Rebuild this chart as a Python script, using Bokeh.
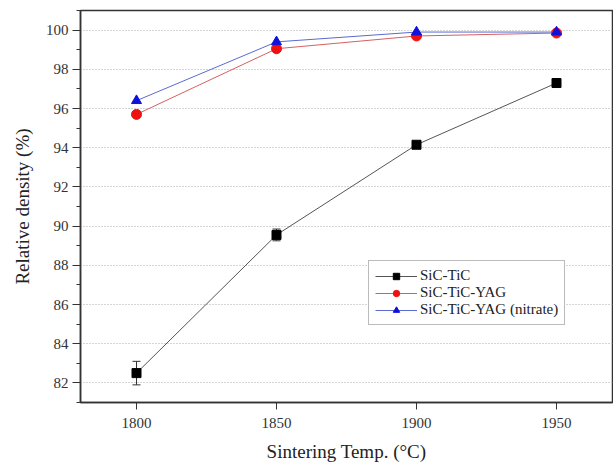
from bokeh.plotting import figure
from bokeh.models import ColumnDataSource, Whisker, Legend, LegendItem, SingleIntervalTicker, FixedTicker, Range1d
from bokeh.embed import file_html
from bokeh.resources import INLINE

temps = [1800, 1850, 1900, 1950]
sic_tic = [82.5, 89.55, 94.15, 97.3]
sic_tic_err = [0.6, 0.3, 0.1, 0.1]
sic_tic_yag = [95.7, 99.05, 99.7, 99.85]
sic_tic_yag_nitrate = [96.4, 99.4, 99.9, 99.9]
x_ticks = [1800, 1850, 1900, 1950]

FONT = "Liberation Serif"

p = figure(width=613, height=464, output_backend="svg", toolbar_location=None,
           x_range=Range1d(1780, 1970), y_range=Range1d(81, 101),
           min_border_left=80, min_border_right=1, min_border_top=10, min_border_bottom=62)

src = ColumnDataSource(dict(x=temps, y=sic_tic,
                            lo=[v - e for v, e in zip(sic_tic, sic_tic_err)],
                            hi=[v + e for v, e in zip(sic_tic, sic_tic_err)]))
w = Whisker(source=src, base="x", lower="lo", upper="hi", line_color="#333333", line_width=1)
w.upper_head.size = 8
w.lower_head.size = 8
w.upper_head.line_color = "#333333"
w.lower_head.line_color = "#333333"
p.add_layout(w)

l1 = p.line(temps, sic_tic, line_color="#555555", line_width=1)
m1 = p.scatter(temps, sic_tic, marker="square", size=9, fill_color="black", line_color="black")
l2 = p.line(temps, sic_tic_yag, line_color="#d66060", line_width=1)
m2 = p.scatter(temps, sic_tic_yag, marker="circle", size=10, fill_color="#ee1111", line_color="#ee1111")
l3 = p.line(temps, sic_tic_yag_nitrate, line_color="#5a6ad0", line_width=1)
m3 = p.scatter(temps, sic_tic_yag_nitrate, marker="triangle", size=10, fill_color="#1010dd", line_color="#1010dd")

legend = Legend(items=[
    LegendItem(label="SiC-TiC", renderers=[l1, m1]),
    LegendItem(label="SiC-TiC-YAG", renderers=[l2, m2]),
    LegendItem(label="SiC-TiC-YAG (nitrate)", renderers=[l3, m3]),
], location=(288, 77))
legend.label_text_font = FONT
legend.label_text_font_size = "15px"
legend.label_text_color = "#222222"
legend.border_line_color = "#777777"
legend.border_line_width = 1
legend.spacing = 0
legend.padding = 6
legend.margin = 0
legend.glyph_height = 16
legend.glyph_width = 42
legend.label_height = 16
legend.label_standoff = 3
legend.background_fill_alpha = 1
p.add_layout(legend)

p.xaxis.ticker = FixedTicker(ticks=x_ticks)
p.yaxis.ticker = SingleIntervalTicker(interval=2, num_minor_ticks=2)

for ax in (p.xaxis[0], p.yaxis[0]):
    ax.major_label_text_font = FONT
    ax.major_label_text_font_size = "15px"
    ax.major_label_text_color = "#333333"
    ax.axis_label_text_font = FONT
    ax.axis_label_text_font_size = "19px"
    ax.axis_label_text_font_style = "normal"
    ax.axis_label_text_color = "#222222"
    ax.axis_line_color = "#333333"
    ax.axis_line_width = 1.5
    ax.major_tick_line_color = "#333333"
    ax.minor_tick_line_color = "#333333"
    ax.major_tick_in = 0
    ax.minor_tick_in = 0

p.xaxis.major_tick_out = 7
p.xaxis.minor_tick_out = 0
p.yaxis.major_tick_out = 8
p.yaxis.minor_tick_out = 4
p.xaxis.axis_label = "Sintering Temp. (°C)"
p.yaxis.axis_label = "Relative density (%)"
p.xaxis.major_label_standoff = 8
p.yaxis.major_label_standoff = 4
p.xaxis.axis_label_standoff = 10
p.yaxis.axis_label_standoff = 10

p.xgrid.grid_line_color = None
p.ygrid.grid_line_color = "#aaaaaa"
p.ygrid.grid_line_dash = "1 2"
p.ygrid.grid_line_width = 1

p.outline_line_color = "#333333"
p.outline_line_width = 1.5
p.outline_line_alpha = 1

open("out.html", "w").write(file_html(p, INLINE))
